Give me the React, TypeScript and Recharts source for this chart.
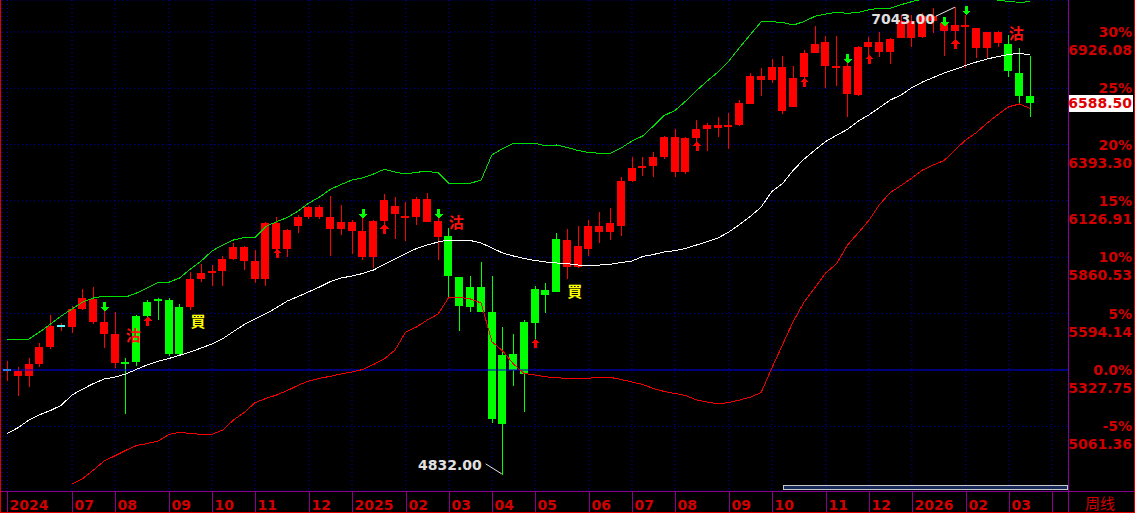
import React from "react"
import {
  ComposedChart,
  Bar,
  Line,
  XAxis,
  YAxis,
  CartesianGrid,
  ReferenceLine,
  ReferenceDot,
} from "recharts"

// weekly candles
const opens = [
  5327.75, 5300.8, 5300.8, 5356.1, 5436.5, 5534.3, 5532.4, 5616.1, 5554.7, 5497.9,
  5362.3, 5363.0, 5583.0, 5650.6, 5658.0, 5658.7, 5625.6, 5627.0, 5757.9, 5791.5,
  5795.8, 5852.5, 5843.0, 5757.9, 5757.9, 5899.8, 5899.8, 6008.5, 6051.0, 6051.0,
  5994.3, 5994.3, 5984.8, 5862.0, 5862.0, 6032.1, 6066.6, 6048.6, 6052.4, 6028.8,
  5957.9, 5961.2, 5765.9, 5718.7, 5718.7, 5601.9, 5398.7, 5403.4, 5554.7, 5710.7,
  5705.9, 5947.0, 5816.1, 5816.1, 5899.8, 5980.1, 5980.1, 6008.5, 6221.2, 6287.8,
  6292.1, 6336.1, 6265.2, 6265.2, 6425.9, 6467.0, 6471.7, 6476.4, 6486.0, 6586.6,
  6698.7, 6698.7, 6552.1, 6571.0, 6714.3, 6827.7, 6766.2, 6760.5, 6633.9, 6627.8,
  6854.7, 6832.4, 6832.4, 6898.6, 6898.6, 6903.3, 6979.0, 6931.8, 6931.8, 6954.5,
  6848.5, 6848.5, 6875.0, 6868.9, 6733.2, 6623.0,
]
const highs = [
  5370.3, 5340.5, 5384.5, 5455.4, 5587.8, 5548.5, 5630.3, 5710.7, 5721.5, 5608.1,
  5603.4, 5383.1, 5587.8, 5658.7, 5669.5, 5669.5, 5639.7, 5792.5, 5828.9, 5824.1,
  5866.7, 5926.7, 5912.0, 5895.0, 6026.0, 6049.6, 5994.3, 6060.5, 6104.4, 6107.8,
  6150.3, 6107.8, 6036.9, 6047.7, 6036.9, 6159.7, 6147.0, 6123.4, 6144.2, 6163.0,
  6055.8, 5997.6, 5768.0, 5772.1, 5838.3, 5772.1, 5531.0, 5497.9, 5564.1, 5724.9,
  5739.0, 5975.4, 5994.3, 6008.5, 6036.9, 6074.7, 6093.6, 6240.1, 6334.7, 6334.7,
  6359.7, 6433.0, 6467.0, 6428.0, 6509.6, 6494.0, 6522.3, 6541.2, 6604.2, 6730.4,
  6753.9, 6796.6, 6812.1, 6764.8, 6840.5, 6953.9, 6908.1, 6908.1, 6779.0, 6859.4,
  6900.5, 6923.7, 6895.0, 7006.0, 7006.0, 7014.0, 7039.0, 6997.0, 7043.0, 7006.0,
  6946.0, 6925.0, 6930.0, 6911.4, 6848.5, 6812.1,
]
const lows = [
  5277.2, 5206.3, 5248.8, 5340.5, 5428.4, 5513.5, 5504.1, 5611.4, 5545.2, 5433.2,
  5335.8, 5121.2, 5346.7, 5540.5, 5564.1, 5393.9, 5401.0, 5611.4, 5745.2, 5726.3,
  5726.3, 5847.8, 5800.5, 5737.6, 5726.3, 5885.6, 5860.5, 5976.8, 6041.6, 6041.6,
  5866.7, 5965.9, 5876.1, 5847.8, 5810.0, 6017.9, 5947.0, 5937.6, 6013.2, 6026.0,
  5847.8, 5671.4, 5513.5, 5603.4, 5600.0, 5078.6, 4832.0, 5252.1, 5129.2, 5474.3,
  5597.2, 5697.0, 5759.4, 5812.0, 5868.1, 5929.5, 5942.3, 5961.2, 6218.0, 6244.8,
  6241.5, 6323.7, 6241.5, 6252.8, 6405.0, 6364.5, 6430.6, 6372.5, 6481.2, 6585.0,
  6624.4, 6683.1, 6539.4, 6569.0, 6698.7, 6826.0, 6659.4, 6670.3, 6525.2, 6623.0,
  6802.0, 6806.0, 6772.9, 6897.0, 6856.1, 6898.6, 6922.0, 6812.1, 6892.5, 6753.9,
  6805.0, 6796.6, 6856.0, 6714.3, 6585.2, 6525.2,
]
const closes = [
  5327.75, 5323.0, 5356.1, 5435.1, 5535.8, 5534.3, 5614.7, 5669.5, 5663.4, 5554.7,
  5497.9, 5361.5, 5367.0, 5583.0, 5656.5, 5403.4, 5403.4, 5757.9, 5786.3, 5793.5,
  5852.5, 5909.2, 5909.2, 5843.0, 6024.1, 6024.1, 5989.6, 6051.0, 6096.9, 6096.9,
  6051.0, 6027.4, 6027.4, 5984.8, 6030.7, 6131.4, 6103.0, 6050.6, 6136.1, 6136.1,
  6032.1, 5772.1, 5630.3, 5627.0, 5603.4, 5097.5, 5072.5, 5327.75, 5308.8, 5549.9,
  5682.3, 5697.9, 5942.3, 5914.0, 6008.5, 6008.5, 6022.7, 6221.2, 6282.7, 6289.8,
  6336.1, 6430.6, 6430.6, 6425.9, 6467.0, 6486.0, 6486.0, 6487.4, 6588.5, 6717.6,
  6717.6, 6760.1, 6760.1, 6708.8, 6827.7, 6870.3, 6878.3, 6762.5, 6764.8, 6854.7,
  6878.3, 6878.3, 6892.5, 6977.6, 6977.6, 7001.2, 7001.2, 6966.8, 6958.8, 6956.5,
  6944.5, 6923.7, 6923.7, 6742.6, 6624.4, 6588.5,
]

// bollinger lines
const bandUpper = [
  5469.6, 5472.0, 5474.3, 5507.4, 5545.2, 5583.0, 5616.1, 5649.2, 5668.1, 5677.6,
  5672.9, 5672.9, 5691.8, 5715.4, 5741.4, 5742.4, 5762.7, 5805.2, 5843.0, 5890.3,
  5918.7, 5942.3, 5954.1, 5955.1, 6006.1, 6028.8, 6048.7, 6079.4, 6117.2, 6145.6,
  6182.0, 6204.7, 6226.0, 6236.4, 6254.3, 6276.5, 6263.8, 6254.3, 6262.8, 6266.2,
  6260.5, 6210.4, 6210.4, 6210.4, 6226.0, 6344.2, 6374.9, 6399.5, 6399.5, 6399.5,
  6386.7, 6391.4, 6379.6, 6365.4, 6356.0, 6352.2, 6352.2, 6377.2, 6410.3, 6434.0,
  6481.2, 6530.9, 6554.5, 6599.4, 6649.1, 6694.0, 6736.5, 6788.5, 6852.3, 6913.8,
  6972.9, 6974.3, 6970.5, 6958.7, 6975.3, 6999.8, 7010.7, 7018.8, 7014.0, 7017.8,
  7031.0, 7037.7, 7038.1, 7054.7, 7069.3, 7081.6, 7091.1, 7095.8, 7095.8, 7095.8,
  7091.1, 7084.0, 7075.9, 7069.8, 7066.0, 7068.9,
]
const bandMid = [
  5028.5, 5055.0, 5091.4, 5116.4, 5136.3, 5160.9, 5209.6, 5237.9, 5263.9, 5285.2,
  5294.7, 5308.9, 5331.1, 5352.3, 5368.9, 5382.1, 5397.3, 5412.9, 5431.8, 5450.7,
  5475.3, 5509.8, 5542.9, 5568.9, 5593.4, 5622.3, 5653.9, 5675.2, 5697.9, 5720.1,
  5746.1, 5762.7, 5772.1, 5784.0, 5800.5, 5826.5, 5852.5, 5878.5, 5902.1, 5918.7,
  5932.9, 5942.3, 5942.3, 5939.9, 5928.1, 5904.5, 5880.9, 5866.7, 5854.9, 5845.4,
  5838.3, 5833.6, 5830.3, 5824.1, 5824.1, 5824.1, 5827.9, 5836.0, 5843.0, 5864.3,
  5873.8, 5885.6, 5891.7, 5902.1, 5918.7, 5934.3, 5951.8, 5980.1, 6015.6, 6053.4,
  6098.3, 6171.6, 6209.4, 6273.2, 6325.2, 6367.8, 6408.0, 6437.3, 6464.7, 6503.5,
  6533.2, 6568.7, 6604.2, 6627.8, 6663.3, 6689.3, 6710.5, 6731.8, 6748.3, 6767.3,
  6783.8, 6798.0, 6809.8, 6819.3, 6824.9, 6816.9,
]
const bandLower = [
  null, null, null, null, null, null, 4788.8, 4814.8, 4855.0, 4897.6,
  4922.6, 4948.1, 4970.8, 4980.3, 4992.1, 5022.8, 5033.2, 5027.6, 5023.8, 5023.8,
  5044.1, 5091.4, 5126.9, 5173.2, 5193.0, 5209.6, 5230.8, 5255.4, 5275.8, 5288.5,
  5298.0, 5308.9, 5318.3, 5330.1, 5353.8, 5379.8, 5422.3, 5507.4, 5531.0, 5564.1,
  5592.5, 5671.4, 5671.4, 5663.4, 5644.5, 5461.6, 5417.6, 5356.1, 5311.2, 5304.1,
  5295.6, 5290.9, 5288.5, 5288.5, 5289.0, 5293.3, 5292.8, 5282.8, 5271.0, 5259.2,
  5240.3, 5226.1, 5216.7, 5207.2, 5185.9, 5176.5, 5167.0, 5174.1, 5185.9, 5199.2,
  5221.4, 5337.2, 5448.3, 5559.4, 5649.2, 5717.8, 5786.3, 5829.8, 5916.3, 5975.4,
  6034.5, 6110.1, 6166.9, 6200.0, 6235.4, 6273.2, 6296.9, 6318.1, 6367.8, 6415.1,
  6450.5, 6495.4, 6535.6, 6572.5, 6585.3, 6564.0,
]

// bottom axis: first week of each month
const monthTicks = [0, 6, 10, 15, 19, 23, 28, 32, 37, 41, 45, 49, 54, 58, 62, 67, 71, 76, 80, 84, 89, 93, 97]
const monthLabels = ["2024", "07", "08", "09", "10", "11", "12", "2025", "02", "03", "04", "05", "06", "07", "08", "09", "10", "11", "12", "2026", "02", "03", ""]

// right axis
const pctLabels = ["-5%", "0.0%", "5%", "10%", "15%", "20%", "25%", "30%"]
const pctPrices = [5061.36, 5327.75, 5594.14, 5860.53, 6126.91, 6393.3, 6659.69, 6926.08]
const lastPrice = 6588.5

// signals
const buyIdx = [17, 52]
const buyPrice = [5559.5, 5705.7]
const sellIdx = [11, 41, 93]
const sellPrice = [5497.5, 6032.1, 6923.3]
const downIdx = [9, 33, 40, 78, 87, 89]
const downPrice = [5606.6, 6046.3, 6046.3, 6779.1, 6954.0, 7007.4]
const upIdx = [13, 25, 35, 49, 64, 74, 80, 88]
const upPrice = [5579.7, 5899.8, 6017.9, 5474.3, 6407.0, 6708.2, 6816.9, 6892.5]
const highMark = { i: 88, p: 7043.0 }
const lowMark = { i: 46, p: 4832.0 }

const rows = Array.from({ length: 99 }, (_, i) =>
  i < opens.length
    ? { i, o: opens[i], h: highs[i], l: lows[i], c: closes[i], up: bandUpper[i], mid: bandMid[i], lo: bandLower[i] }
    : { i }
)

const W = 1135
const H = 513
const RED = "#ff0000"
const GREEN = "#00ff00"
const CYAN = "#55ffff"
const LABEL = "#d00000"
const PURPLE = "#8a008a"
const GRID = "#0000c0"
const FONT = "DejaVu Sans"

function Candle(props: any) {
  const { x, y, width, height, payload } = props
  if (!payload || payload.h == null) return <g />
  const top = Math.min(y, y + height)
  const span = Math.abs(height)
  const k = span / (payload.h - payload.l)
  const cx = Math.round(x + width / 2)
  const color = payload.c > payload.o ? RED : payload.c < payload.o ? GREEN : CYAN
  const wick = payload.c < payload.o ? GREEN : RED
  let by = top + (payload.h - Math.max(payload.o, payload.c)) * k
  let bh = Math.abs(payload.o - payload.c) * k
  if (bh < 2) {
    by = by + bh / 2 - 1
    bh = 2
  }
  return (
    <g shapeRendering="crispEdges">
      <rect x={cx} y={top} width={1} height={span} fill={wick} />
      <rect x={cx - 4} y={by} width={8} height={bh} fill={color} />
    </g>
  )
}

function MonthTick(props: any) {
  const { x, y, payload } = props
  const label = monthLabels[monthTicks.indexOf(payload.value)]
  const sx = Math.round(x) + 0.5
  return (
    <g>
      <line x1={sx} y1={y} x2={sx} y2={y + 22} stroke={PURPLE} />
      <text x={sx + 2} y={y + 19} fill={LABEL} fontSize={14} fontWeight="bold" fontFamily={FONT}>
        {label}
      </text>
    </g>
  )
}

function PriceTick(props: any) {
  const { x, y, payload } = props
  const v = payload.value
  const idx = pctPrices.indexOf(v)
  // the price under 25% sits behind the last price box
  const hidden = Math.abs(v - 85 - lastPrice) < 85
  return (
    <g>
      <text x={x + 64} y={y + 5} textAnchor="end" fill={LABEL} fontSize={14} fontWeight="bold" fontFamily={FONT}>
        {pctLabels[idx]}
      </text>
      {!hidden && (
        <text x={x + 64} y={y + 23} textAnchor="end" fill={LABEL} fontSize={14} fontWeight="bold" fontFamily={FONT}>
          {v.toFixed(2)}
        </text>
      )}
    </g>
  )
}

function PriceBox(props: any) {
  const vb = props.viewBox || {}
  const right = vb.x + vb.width
  const cy = vb.y
  return (
    <g>
      <rect x={right + 0.5} y={cy - 8.5} width={64} height={17} fill="#ffffff" shapeRendering="crispEdges" />
      <text x={right + 64} y={cy + 5} textAnchor="end" fill="#e00000" fontSize={14} fontWeight="bold" fontFamily={FONT}>
        {lastPrice.toFixed(2)}
      </text>
    </g>
  )
}

const DownArrow = (p: any) => (
  <g shapeRendering="crispEdges">
    <rect x={Math.round(p.cx) - 1} y={p.cy - 9} width={3} height={5} fill={GREEN} />
    <polygon points={`${p.cx - 4},${p.cy - 4} ${p.cx + 5},${p.cy - 4} ${p.cx + 0.5},${p.cy + 0.5}`} fill={GREEN} />
  </g>
)

const UpArrow = (p: any) => (
  <g shapeRendering="crispEdges">
    <polygon points={`${p.cx + 0.5},${p.cy} ${p.cx - 4},${p.cy + 4.5} ${p.cx + 5},${p.cy + 4.5}`} fill={RED} />
    <rect x={Math.round(p.cx) - 1} y={p.cy + 4.5} width={3} height={5} fill={RED} />
  </g>
)

const signText = (txt: string, color: string) => (p: any) => (
  <text x={p.cx} y={p.cy} dominantBaseline="central" fill={color} fontSize={15} fontWeight="bold" fontFamily="Noto Sans CJK TC">
    {txt}
  </text>
)

const HighLabel = (p: any) => (
  <g>
    <line x1={p.cx - 19} y1={p.cy + 9} x2={p.cx} y2={p.cy} stroke="#e8e8e8" />
    <text x={p.cx - 20} y={p.cy + 17} textAnchor="end" fill="#e0e0e0" fontSize={14} fontWeight="bold" fontFamily={FONT}>
      {highMark.p.toFixed(2)}
    </text>
  </g>
)

const LowLabel = (p: any) => (
  <g>
    <line x1={p.cx - 17} y1={p.cy - 11} x2={p.cx - 1} y2={p.cy - 1} stroke="#e8e8e8" />
    <text x={p.cx - 21} y={p.cy - 5} textAnchor="end" fill="#e0e0e0" fontSize={14} fontWeight="bold" fontFamily={FONT}>
      {lowMark.p.toFixed(2)}
    </text>
  </g>
)

export default function App() {
  return (
    <div style={{ position: "absolute", left: 0, top: 0, width: W, height: H, background: "#000", overflow: "hidden" }}>
      <ComposedChart width={W} height={H} data={rows} margin={{ top: 0, right: 0, bottom: 0, left: 2 }}>
        <CartesianGrid stroke={GRID} strokeDasharray="1 3" />
        <XAxis
          dataKey="i"
          type="category"
          ticks={monthTicks}
          interval={0}
          height={22}
          axisLine={false}
          tickLine={false}
          tickSize={0}
          tickMargin={0}
          tick={<MonthTick />}
        />
        <YAxis
          orientation="right"
          type="number"
          width={67}
          domain={[4755.7, 7076.9]}
          allowDataOverflow
          ticks={pctPrices}
          interval={0}
          axisLine={false}
          tickLine={false}
          tickSize={0}
          tickMargin={0}
          tick={<PriceTick />}
        />
        <ReferenceLine y={pctPrices[1]} stroke="#0000e0" />
        {sellIdx.map((x, k) => (
          <ReferenceDot key={"s" + k} x={x} y={sellPrice[k]} shape={signText("沽", "#ff1010")} />
        ))}
        {buyIdx.map((x, k) => (
          <ReferenceDot key={"b" + k} x={x} y={buyPrice[k]} shape={signText("買", "#ffff00")} />
        ))}
        <Bar
          dataKey={(d: any) => (d.h == null ? null : [d.l, d.h])}
          barSize={8}
          shape={<Candle />}
          isAnimationActive={false}
        />
        <Line dataKey="up" stroke="#00e000" strokeWidth={1} dot={false} isAnimationActive={false} shapeRendering="crispEdges" />
        <Line dataKey="mid" stroke="#ffffff" strokeWidth={1} dot={false} isAnimationActive={false} shapeRendering="crispEdges" />
        <Line dataKey="lo" stroke="#f00000" strokeWidth={1} dot={false} isAnimationActive={false} shapeRendering="crispEdges" />
        {downIdx.map((x, k) => (
          <ReferenceDot key={"d" + k} x={x} y={downPrice[k]} shape={DownArrow} />
        ))}
        {upIdx.map((x, k) => (
          <ReferenceDot key={"u" + k} x={x} y={upPrice[k]} shape={UpArrow} />
        ))}
        <ReferenceDot x={highMark.i} y={highMark.p} shape={HighLabel} />
        <ReferenceDot x={lowMark.i} y={lowMark.p} shape={LowLabel} />
        <ReferenceLine y={lastPrice} stroke="none" label={(p: any) => <PriceBox viewBox={p.viewBox} />} />
      </ComposedChart>
      <svg
        width={W}
        height={H}
        style={{ position: "absolute", left: 0, top: 0, pointerEvents: "none" }}
        shapeRendering="crispEdges"
      >
        <line x1={0} y1={491.5} x2={W} y2={491.5} stroke={PURPLE} />
        <line x1={1068.5} y1={0} x2={1068.5} y2={H} stroke={PURPLE} />
        <line x1={0.5} y1={0} x2={0.5} y2={H} stroke="#e00000" />
        <line x1={0} y1={512.5} x2={W} y2={512.5} stroke="#e00000" />
        <line x1={1134.5} y1={0} x2={1134.5} y2={H} stroke="#e00000" />
        <rect x={783.5} y={485.5} width={284} height={4} fill="#182a5c" stroke="#c8c8c8" />
        <text x={1100} y={509} textAnchor="middle" fill={LABEL} fontSize={15} fontFamily="Noto Sans CJK SC">
          周线
        </text>
      </svg>
    </div>
  )
}
